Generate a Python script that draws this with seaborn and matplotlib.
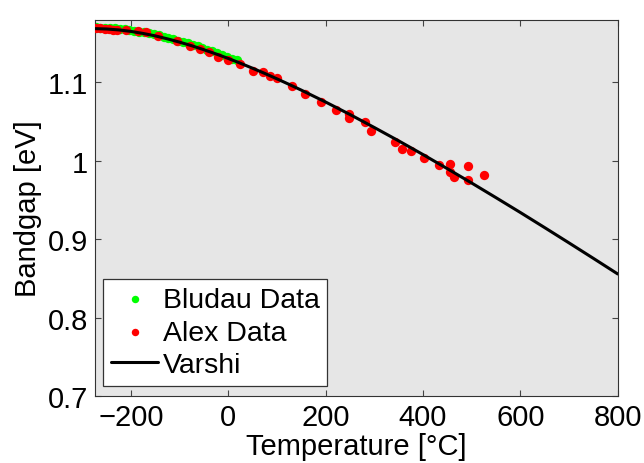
import matplotlib
matplotlib.use("Agg")
import matplotlib.pyplot as plt
import seaborn as sns
import pandas as pd

# ---- data ----
bludau_temp_c = [-271, -263, -253, -243, -233, -223, -213, -203, -193, -183,
                 -173, -163, -153, -143, -133, -123, -113, -103, -93, -83,
                 -73, -63, -53, -43, -33, -23, -13, -3, 7, 17]
bludau_gap = [1.1700, 1.1699, 1.1697, 1.1694, 1.1689, 1.1683, 1.1676, 1.1668, 1.1659, 1.1648,
              1.1637, 1.1625, 1.1612, 1.1598, 1.1583, 1.1567, 1.1551, 1.1534, 1.1516, 1.1497,
              1.1478, 1.1458, 1.1438, 1.1417, 1.1395, 1.1373, 1.1350, 1.1327, 1.1303, 1.1279]

alex_temp_c = [-272.7, -264.1, -253.8, -245.6, -236.8, -228.0, -209.1, -185.4, -168.0, -143.7,
               -105.9, -78.6, -58.1, -39.6, -22.1, -1.6, 24.1, 51.4, 72.0, 84.7,
               100.1, 130.3, 157.6, 190.1, 221.3, 248.6, 248.6, 280.9, 292.6, 342.5,
               356.3, 374.4, 402.1, 433.5, 455.5, 455.5, 463.7, 493.1, 493.1, 525.9]
alex_gap = [1.1693, 1.1689, 1.1684, 1.1680, 1.1673, 1.1671, 1.1671, 1.1661, 1.1639, 1.1597,
            1.1527, 1.1469, 1.1425, 1.1383, 1.1323, 1.1284, 1.1233, 1.1148, 1.1138, 1.1084,
            1.1051, 1.0953, 1.0851, 1.0753, 1.0653, 1.0596, 1.0551, 1.0490, 1.0375, 1.0235,
            1.0156, 1.0128, 1.0034, 0.9949, 0.9958, 0.9852, 0.9788, 0.9936, 0.9758, 0.9818]

varshni_temp_c = [-273.15, -250, -225, -200, -175, -150, -125, -100, -75, -50, -25, 0,
                  25, 50, 75, 100, 125, 150, 200, 250, 300, 350, 400, 450, 500,
                  550, 600, 650, 700, 750, 800]
varshni_gap = [1.1685, 1.1681, 1.1669, 1.1650, 1.1624, 1.1593, 1.1555, 1.1513, 1.1467, 1.1416, 1.1362, 1.1305,
               1.1244, 1.1180, 1.1114, 1.1045, 1.0974, 1.0901, 1.0749, 1.0590, 1.0424, 1.0254, 1.0079, 0.9899, 0.9716,
               0.9529, 0.9340, 0.9147, 0.8952, 0.8755, 0.8556]

x_ticks = [-200, 0, 200, 400, 600, 800]
y_ticks = [0.7, 0.8, 0.9, 1.0, 1.1]
y_tick_labels = ["0.7", "0.8", "0.9", "1", "1.1"]

sns.set_style("ticks")
plt.rcParams["font.family"] = ["Liberation Sans", "DejaVu Sans"]
plt.rcParams["text.color"] = "black"
plt.rcParams["axes.labelcolor"] = "black"
plt.rcParams["xtick.labelcolor"] = "black"
plt.rcParams["ytick.labelcolor"] = "black"

fig = plt.figure(figsize=(6.44, 4.64), dpi=100)
ax = fig.add_axes([0.148, 0.1445, 0.8112, 0.811])
ax.set_facecolor("#E6E6E6")

bludau = pd.DataFrame({"T": bludau_temp_c, "Eg": bludau_gap})
alex = pd.DataFrame({"T": alex_temp_c, "Eg": alex_gap})
varshni = pd.DataFrame({"T": varshni_temp_c, "Eg": varshni_gap})

sns.scatterplot(data=bludau, x="T", y="Eg", color="#00FF00", s=45, linewidth=0,
                ax=ax, label="Bludau Data", zorder=2)
sns.scatterplot(data=alex, x="T", y="Eg", color="#FF0000", s=45, linewidth=0,
                ax=ax, label="Alex Data", zorder=3)
sns.lineplot(data=varshni, x="T", y="Eg", color="black", linewidth=2.2,
             ax=ax, label="Varshi", zorder=4)

ax.set_xlim(-273.15, 800)
ax.set_ylim(0.7, 1.18)
ax.set_xticks(x_ticks)
ax.set_yticks(y_ticks)
ax.set_yticklabels(y_tick_labels)

ax.tick_params(direction="in", length=4, width=0.8, top=True, right=True,
               labelsize=21, color="#444444", labelcolor="black", pad=5)
for sp in ax.spines.values():
    sp.set_color("#333333")
    sp.set_linewidth(0.8)

ax.set_xlabel("Temperature [°C]", fontsize=21, labelpad=1, color="black")
ax.set_ylabel("Bandgap [eV]", fontsize=21, labelpad=4, color="black")

leg = ax.legend(loc="lower left", bbox_to_anchor=(0.0153, 0.0255), borderaxespad=0,
                frameon=True, fancybox=False, edgecolor="#333333", framealpha=1,
                facecolor="white", fontsize=20.5, labelspacing=0.24, handlelength=1.65,
                handletextpad=0.15, borderpad=0.28, markerscale=0.8)
leg.get_frame().set_linewidth(0.9)
for t in leg.get_texts():
    t.set_color("black")

fig.savefig("out.png", dpi=100)
